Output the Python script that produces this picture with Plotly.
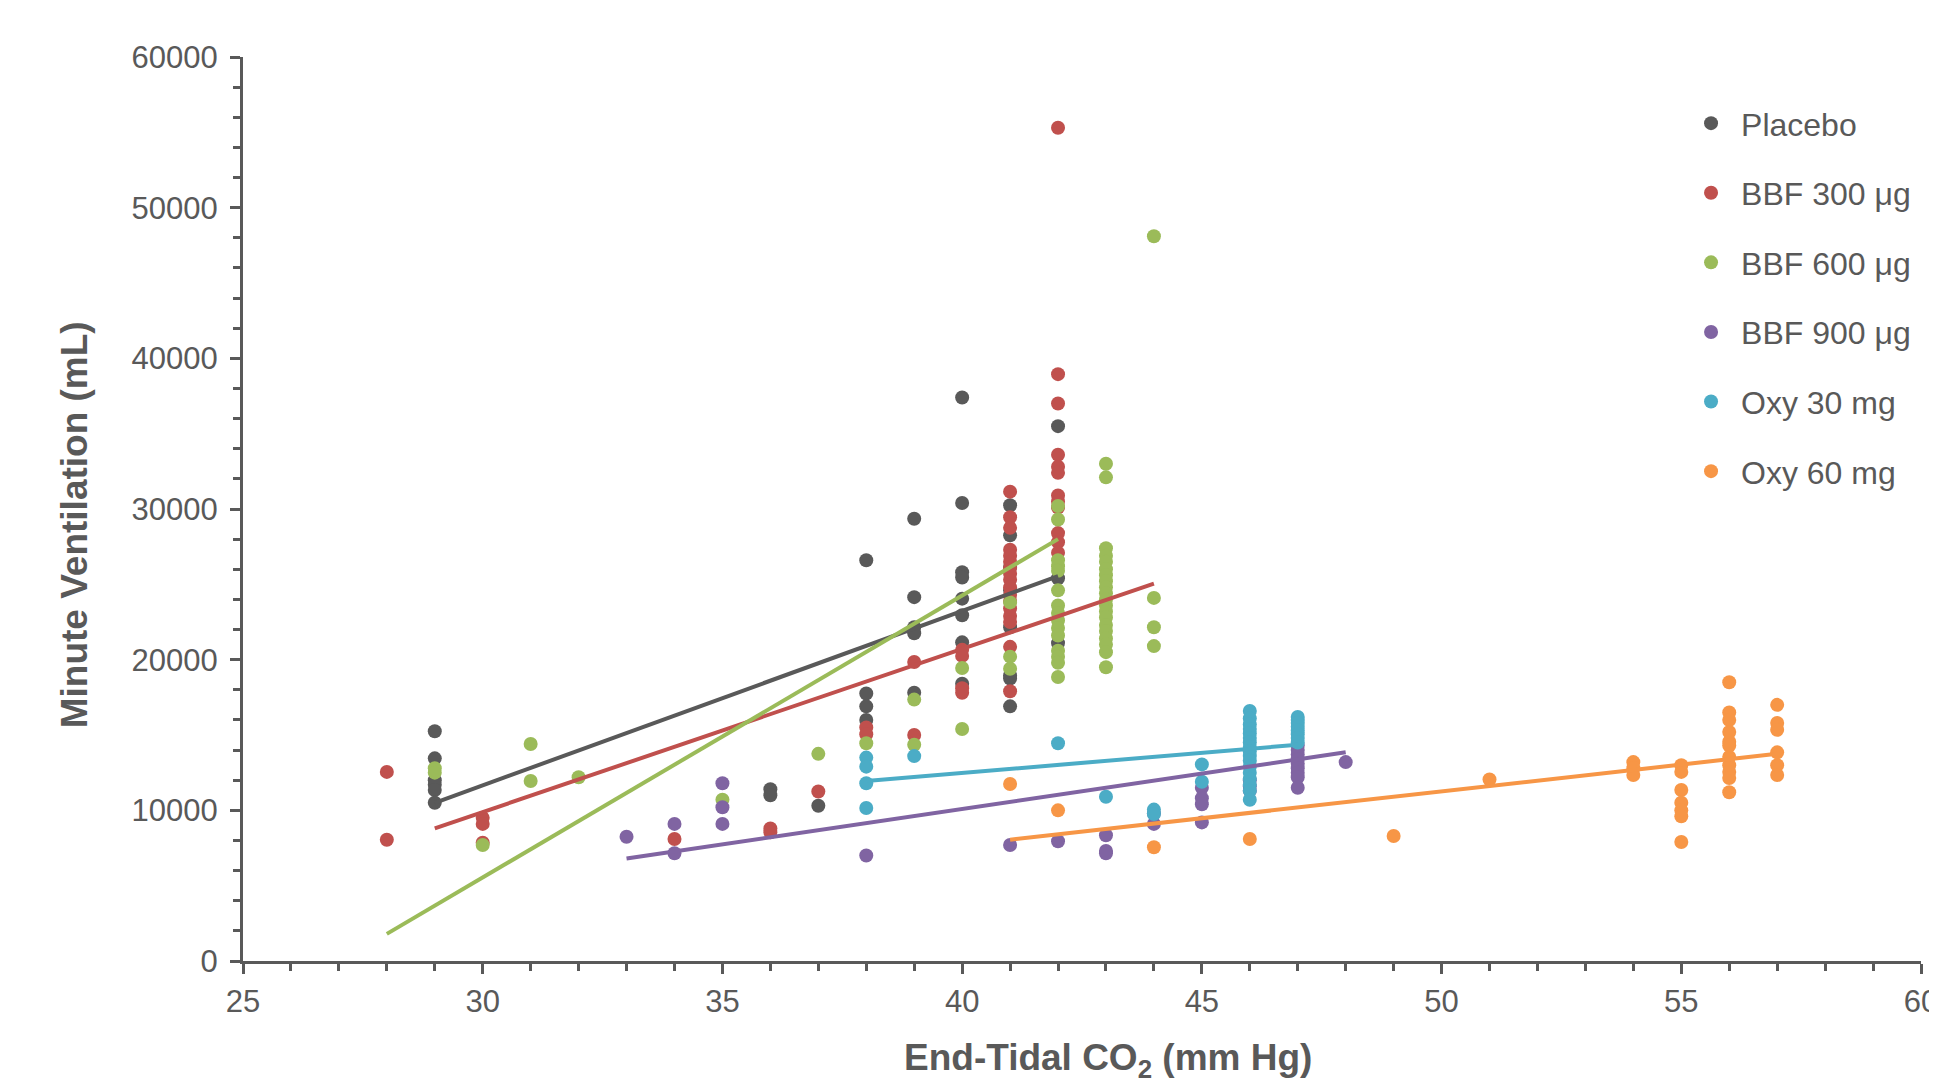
import plotly.graph_objects as go

# ---- data ----
placebo_x = [29]*6 + [36]*2 + [37] + [38]*4 + [39]*5 + [40]*8 + [41]*8 + [42]*3
placebo_y = [15250, 13450, 12000, 11700, 11350, 10500,
             11400, 11000,
             10300,
             26600, 17750, 16900, 16000,
             29350, 24150, 22150, 21750, 17800,
             37400, 30400, 25800, 25450, 24050, 22950, 21150, 18400,
             30250, 28250, 26150, 24600, 22150, 18950, 18750, 16900,
             35500, 25400, 21100]

bbf300_x = [28]*2 + [30]*3 + [34] + [36]*2 + [37] + [38]*2 + [39]*2 + [40]*4 + [41]*17 + [42]*12
bbf300_y = [12550, 8050,
            9500, 9100, 7850,
            8100,
            8800, 8550,
            11250,
            15500, 15050,
            19850, 15000,
            20650, 20250, 18100, 17800,
            31150, 29450, 28750, 27300, 26900, 26500, 26100, 25700, 25300, 24800,
            24300, 23900, 23400, 22900, 22500, 20850, 17900,
            55300, 38950, 37000, 33600, 32800, 32400, 30900, 30500, 30100, 28400, 27800, 27100]

bbf600_x = [29]*2 + [30] + [31]*2 + [32] + [35] + [37] + [38] + [39]*2 + [40]*2 + [41]*3 + [42]*15 + [43]*20 + [44]*4
bbf600_y = [12800, 12500,
            7700,
            14400, 11950,
            12200,
            10700,
            13750,
            14450,
            17350, 14350,
            19450, 15400,
            23800, 20200, 19400,
            30200, 29300, 26600, 26200, 25900, 24600, 23600, 23100, 22600, 22100,
            21600, 20600, 20200, 19800, 18850,
            33000, 32100, 27400, 26900, 26500, 26000, 25600, 25200, 24800, 24400,
            24000, 23600, 23200, 22800, 22300, 21900, 21400, 21000, 20500, 19500,
            48100, 24100, 22150, 20900]

bbf900_x = [33] + [34]*2 + [35]*3 + [38] + [41] + [42] + [43]*3 + [44]*2 + [45]*4 + [46]*3 + [47]*9 + [48]
bbf900_y = [8250,
            9100, 7150,
            11800, 10200, 9100,
            7000,
            7700,
            7950,
            8350, 7300, 7150,
            9800, 9100,
            11500, 10800, 10400, 9200,
            12000, 11600, 11300,
            14300, 14000, 13700, 13400, 13100, 12800, 12500, 12200, 11500,
            13200]

oxy30_x = [38]*4 + [39] + [42] + [43] + [44]*2 + [45]*2 + [46]*17 + [47]*8
oxy30_y = [13500, 12900, 11800, 10150,
           13600,
           14450,
           10900,
           10050, 9750,
           13050, 11900,
           16600, 16100, 15700, 15400, 15100, 14800, 14500, 14200, 13900, 13600,
           13300, 12900, 12500, 12100, 11700, 11300, 10700,
           16200, 16000, 15800, 15550, 15300, 15050, 14800, 14500]

oxy60_x = [41] + [42] + [44] + [46] + [49] + [51] + [54]*3 + [55]*7 + [56]*11 + [57]*6
oxy60_y = [11750,
           10000,
           7550,
           8100,
           8300,
           12050,
           13200, 12800, 12350,
           13000, 12550, 11350, 10500, 10000, 9600, 7900,
           18500, 16500, 16000, 15200, 14550, 14300, 13550, 13000, 12550, 12150, 11200,
           17000, 15800, 15350, 13850, 13000, 12350]

# linear trendline end points
placebo_trend_x, placebo_trend_y = [29, 42], [10500, 25550]
bbf300_trend_x, bbf300_trend_y = [29, 44], [8800, 25050]
bbf600_trend_x, bbf600_trend_y = [28, 42], [1800, 28000]
bbf900_trend_x, bbf900_trend_y = [33, 48], [6800, 13850]
oxy30_trend_x, oxy30_trend_y = [38, 47], [11950, 14350]
oxy60_trend_x, oxy60_trend_y = [41, 57], [8050, 13750]

names = ["Placebo", "BBF 300 μg", "BBF 600 μg", "BBF 900 μg", "Oxy 30 mg", "Oxy 60 mg"]
colors = ["#595959", "#C0504D", "#9BBB59", "#8064A2", "#4BACC6", "#F79646"]

x_title = "<b>End-Tidal CO<sub>2</sub> (mm Hg)</b>"
y_title = "<b>Minute Ventilation (mL)</b>"

series = [
    (placebo_x, placebo_y, placebo_trend_x, placebo_trend_y),
    (bbf300_x, bbf300_y, bbf300_trend_x, bbf300_trend_y),
    (bbf600_x, bbf600_y, bbf600_trend_x, bbf600_trend_y),
    (bbf900_x, bbf900_y, bbf900_trend_x, bbf900_trend_y),
    (oxy30_x, oxy30_y, oxy30_trend_x, oxy30_trend_y),
    (oxy60_x, oxy60_y, oxy60_trend_x, oxy60_trend_y),
]

FONT = "Arial, Liberation Sans, sans-serif"
GREY = "#595959"

fig = go.Figure()
for i, (name, color, (sx, sy, tx, ty)) in enumerate(zip(names, colors, series)):
    fig.add_trace(go.Scatter(
        x=sx, y=sy, mode="markers", name=name,
        legendgroup=f"g{i}",
        marker=dict(color=color, size=14, line=dict(width=0)),
    ))
for i, (name, color, (sx, sy, tx, ty)) in enumerate(zip(names, colors, series)):
    fig.add_trace(go.Scatter(
        x=tx, y=ty, mode="lines", showlegend=False, hoverinfo="skip",
        line=dict(color=color, width=4),
    ))

fig.update_layout(
    width=1937, height=1080,
    paper_bgcolor="white", plot_bgcolor="white",
    margin=dict(l=235, r=24, t=49, b=127, autoexpand=False),
    font=dict(family=FONT, color=GREY, size=31),
    showlegend=True,
    legend=dict(
        x=0.857, xanchor="left", y=0.957, yanchor="top",
        font=dict(size=32, color=GREY, family=FONT),
        itemwidth=50, tracegroupgap=25,
        bgcolor="rgba(0,0,0,0)",
    ),
    xaxis=dict(
        range=[25, 60], dtick=5, tick0=25,
        automargin=False,
        showgrid=False, zeroline=False,
        showline=True, linecolor=GREY, linewidth=3,
        ticks="outside", ticklen=10, tickwidth=3, tickcolor=GREY,
        tickfont=dict(size=31, color=GREY, family=FONT),
        ticklabelstandoff=1, ticklabeloverflow="allow",
        minor=dict(dtick=1, ticks="outside", ticklen=7, tickwidth=3, tickcolor=GREY, showgrid=False),
    ),
    yaxis=dict(
        range=[0, 60000], dtick=10000, tick0=0, tickformat="d",
        automargin=False,
        showgrid=False, zeroline=False,
        showline=True, linecolor=GREY, linewidth=3,
        ticks="outside", ticklen=10, tickwidth=3, tickcolor=GREY,
        tickfont=dict(size=31, color=GREY, family=FONT),
        ticklabelstandoff=6,
        minor=dict(dtick=2000, ticks="outside", ticklen=7, tickwidth=3, tickcolor=GREY, showgrid=False),
    ),
    annotations=[
        dict(text=x_title, xref="paper", yref="paper", x=0.5152, y=-0.1095,
             xanchor="center", yanchor="middle", showarrow=False,
             font=dict(size=37, color=GREY, family=FONT)),
        dict(text=y_title, xref="paper", yref="paper", x=-0.1007, y=0.482,
             xanchor="center", yanchor="middle", showarrow=False, textangle=-90,
             font=dict(size=37, color=GREY, family=FONT)),
    ],
)

fig.write_html("out.html")
